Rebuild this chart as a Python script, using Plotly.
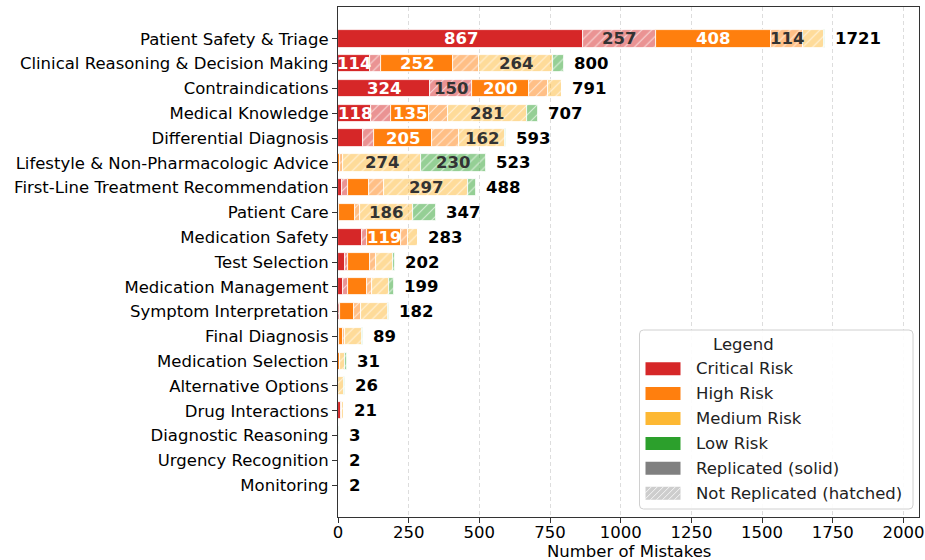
import plotly.graph_objects as go

categories = [
    "Patient Safety & Triage", "Clinical Reasoning & Decision Making", "Contraindications",
    "Medical Knowledge", "Differential Diagnosis", "Lifestyle & Non-Pharmacologic Advice",
    "First-Line Treatment Recommendation", "Patient Care", "Medication Safety", "Test Selection",
    "Medication Management", "Symptom Interpretation", "Final Diagnosis", "Medication Selection",
    "Alternative Options", "Drug Interactions", "Diagnostic Reasoning", "Urgency Recognition",
    "Monitoring",
]
critical_replicated = [867, 114, 324, 118, 87, 0, 13, 0, 86, 25, 19, 0, 0, 0, 0, 10, 0, 0, 0]
critical_not_replicated = [257, 39, 150, 70, 41, 0, 21, 4, 18, 12, 15, 8, 5, 0, 0, 4, 0, 0, 0]
high_replicated = [408, 252, 200, 135, 205, 8, 77, 55, 119, 75, 68, 50, 12, 6, 0, 0, 0, 0, 0]
high_not_replicated = [114, 92, 70, 65, 94, 11, 53, 19, 24, 24, 20, 22, 9, 0, 0, 0, 0, 0, 0]
medium_replicated = [0] * 19
medium_not_replicated = [72, 264, 47, 281, 162, 274, 297, 186, 36, 57, 59, 96, 58, 20, 21, 7, 0, 2, 2]
low_replicated = [0] * 19
low_not_replicated = [3, 39, 0, 38, 4, 230, 27, 83, 0, 9, 18, 6, 5, 5, 5, 0, 3, 0, 0]

x_ticks = [0, 250, 500, 750, 1000, 1250, 1500, 1750, 2000]
x_title = "Number of Mistakes"
legend_title = "Legend"
legend_labels = ["Critical Risk", "High Risk", "Medium Risk", "Low Risk",
                 "Replicated (solid)", "Not Replicated (hatched)"]

FONT = "DejaVu Sans"
FS = 16.5
risk_rgb = {
    "Critical": (214, 39, 40),
    "High": (255, 127, 14),
    "Medium": (253, 184, 51),
    "Low": (44, 160, 44),
}

def rgba(c, a):
    return f"rgba({c[0]},{c[1]},{c[2]},{a})"

series = [
    ("Critical", True, critical_replicated),
    ("Critical", False, critical_not_replicated),
    ("High", True, high_replicated),
    ("High", False, high_not_replicated),
    ("Medium", True, medium_replicated),
    ("Medium", False, medium_not_replicated),
    ("Low", True, low_replicated),
    ("Low", False, low_not_replicated),
]

ypos = list(range(len(categories)))
fig = go.Figure()
annotations = []
cum = [0] * len(categories)
for risk, rep, vals in series:
    c = risk_rgb[risk]
    if rep:
        marker = dict(color=rgba(c, 1), line=dict(color="white", width=0.8))
    else:
        marker = dict(color=rgba(c, 0.5), line=dict(color="white", width=0.8),
                      pattern=dict(shape="/", size=7, solidity=0.15,
                                   fgcolor="rgba(255,255,255,0.65)", bgcolor=rgba(c, 0.5),
                                   fillmode="replace"))
    fig.add_trace(go.Bar(
        y=ypos, x=vals, base=cum[:], orientation="h", width=0.7,
        marker=marker, showlegend=False, hoverinfo="skip",
    ))
    for i, v in enumerate(vals):
        if v >= 100:
            annotations.append(dict(
                x=cum[i] + v / 2, y=i, xref="x", yref="y", text=f"<b>{v}</b>",
                showarrow=False, font=dict(family=FONT, size=FS,
                                           color="white" if rep else "#333333"),
            ))
    cum = [a + b for a, b in zip(cum, vals)]

for i, tot in enumerate(cum):
    annotations.append(dict(
        x=tot, y=i, xref="x", yref="y", text=f"<b>{tot}</b>", showarrow=False,
        xanchor="left", xshift=8, font=dict(family=FONT, size=FS, color="black"),
    ))

# plot area in pixels
W, H = 925, 560
PL, PR, PT, PB = 338, 919, 7, 517

def px(x):
    return (x - PL) / (PR - PL)

def py(y):
    return (PB - y) / (PB - PT)

annotations.append(dict(x=px(628.5), y=py(551), xref="paper", yref="paper", text=x_title,
                        showarrow=False, yanchor="middle",
                        font=dict(family=FONT, size=FS, color="black")))

shapes = []
# legend box (rounded)
bx0, by0, bx1, by1, r = 639.5, 330, 913, 509, 4
path = (f"M {px(bx0 + r)},{py(by0)} L {px(bx1 - r)},{py(by0)} "
        f"Q {px(bx1)},{py(by0)} {px(bx1)},{py(by0 + r)} L {px(bx1)},{py(by1 - r)} "
        f"Q {px(bx1)},{py(by1)} {px(bx1 - r)},{py(by1)} L {px(bx0 + r)},{py(by1)} "
        f"Q {px(bx0)},{py(by1)} {px(bx0)},{py(by1 - r)} L {px(bx0)},{py(by0 + r)} "
        f"Q {px(bx0)},{py(by0)} {px(bx0 + r)},{py(by0)} Z")
shapes.append(dict(type="path", path=path, xref="paper", yref="paper",
                   fillcolor="rgba(255,255,255,0.9)", line=dict(color="#d0d0d0", width=1),
                   layer="above"))
annotations.append(dict(x=px(776), y=py(344), xref="paper", yref="paper", text=legend_title,
                        showarrow=False, yanchor="middle",
                        font=dict(family=FONT, size=FS, color="#222")))
legend_colors = [rgba(risk_rgb["Critical"], 1), rgba(risk_rgb["High"], 1),
                 rgba(risk_rgb["Medium"], 1), rgba(risk_rgb["Low"], 1),
                 "rgb(128,128,128)", "rgb(205,205,205)"]
row_y = [368.7, 393.6, 418.5, 443.4, 468.3, 493.2]
lx0, lx1, lh = 645.5, 680.5, 13
for k, (lab, col, yc) in enumerate(zip(legend_labels, legend_colors, row_y)):
    y0, y1 = yc - lh / 2, yc + lh / 2
    shapes.append(dict(type="rect", xref="paper", yref="paper",
                       x0=px(lx0), x1=px(lx1), y0=py(y1), y1=py(y0),
                       fillcolor=col, line=dict(width=0), layer="above"))
    if k == 5:
        c = lx0 + y0
        while c < lx1 + y1:
            xa = max(lx0, c - y1)
            xb = min(lx1, c - y0)
            if xa < xb:
                shapes.append(dict(type="line", xref="paper", yref="paper",
                                   x0=px(xa), y0=py(c - xa), x1=px(xb), y1=py(c - xb),
                                   line=dict(color="rgba(255,255,255,0.8)", width=1),
                                   layer="above"))
            c += 6
    annotations.append(dict(x=px(694), y=py(yc), xref="paper", yref="paper", text=lab,
                            xanchor="left", yanchor="middle", showarrow=False,
                            font=dict(family=FONT, size=FS, color="#222")))

fig.update_layout(
    width=W, height=H,
    margin=dict(l=PL, r=W - PR, t=PT, b=H - PB, autoexpand=False),
    paper_bgcolor="white", plot_bgcolor="white",
    barmode="overlay", bargap=0,
    font=dict(family=FONT, size=FS, color="black"),
    annotations=annotations, shapes=shapes,
)
fig.update_xaxes(
    range=[0, 2055], tickvals=x_ticks, ticktext=[str(t) for t in x_ticks],
    showgrid=True, gridcolor="#dddddd", griddash="4px,3px", gridwidth=1,
    showline=True, linecolor="#333333", linewidth=1.2, mirror=True,
    ticks="outside", ticklen=5, tickcolor="#333333", zeroline=False, automargin=False,
    ticklabelstandoff=-5,
    tickfont=dict(family=FONT, size=FS, color="black"),
)
fig.update_yaxes(
    range=[len(categories) - 1 + 1.285, -1.285], tickvals=ypos, ticktext=categories,
    showgrid=False, showline=True, linecolor="#333333", linewidth=1.2, mirror=True,
    ticks="outside", ticklen=5, tickcolor="#333333", zeroline=False, automargin=False,
    tickfont=dict(family=FONT, size=FS, color="black"),
)
fig.write_html("out.html", config={"displayModeBar": False},
               post_script="document.body.style.margin='0';document.body.style.overflow='hidden';")
